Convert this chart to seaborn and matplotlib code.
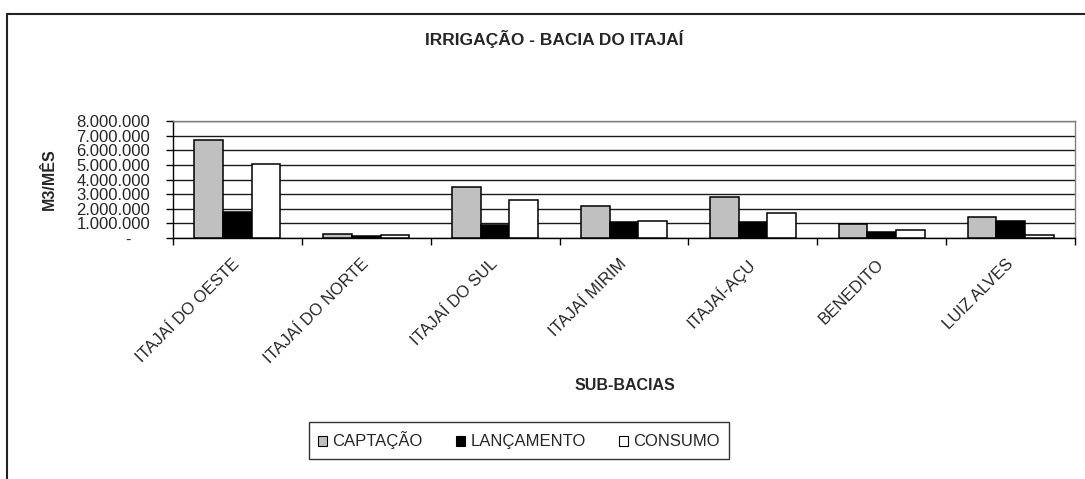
import matplotlib
matplotlib.use("Agg")
import matplotlib.pyplot as plt
from matplotlib.lines import Line2D
from matplotlib.ticker import FuncFormatter, MultipleLocator
import numpy as np
import pandas as pd
import seaborn as sns

categories = ["ITAJAÍ DO OESTE", "ITAJAÍ DO NORTE", "ITAJAÍ DO SUL", "ITAJAÍ MIRIM",
              "ITAJAÍ-AÇU", "BENEDITO", "LUIZ ALVES"]
series_names = ["CAPTAÇÃO", "LANÇAMENTO", "CONSUMO"]
captacao = [6690000, 300000, 3470000, 2190000, 2810000, 960000, 1440000]
lancamento = [1760000, 120000, 920000, 1070000, 1070000, 410000, 1190000]
consumo = [5030000, 180000, 2630000, 1160000, 1710000, 580000, 180000]
colors = ["#C0C0C0", "#000000", "#FFFFFF"]

rows = []
for name, vals in zip(series_names, [captacao, lancamento, consumo]):
    for c, v in zip(categories, vals):
        rows.append({"SUB-BACIAS": c, "valor": v, "serie": name})
df = pd.DataFrame(rows)

sns.set_style("white")
plt.rcParams["font.family"] = ["Liberation Sans", "DejaVu Sans"]

W, H = 1085, 479
fig = plt.figure(figsize=(W / 100, H / 100), dpi=100)
ax = fig.add_axes([173 / W, 1 - 238 / H, (1075 - 173) / W, (238 - 121) / H])

sns.barplot(data=df, x="SUB-BACIAS", y="valor", hue="serie", order=categories,
            hue_order=series_names, palette=colors, saturation=1, width=0.667,
            edgecolor="black", linewidth=1.1, ax=ax, legend=True, zorder=3)

ax.set_xlim(-0.5, len(categories) - 0.5)
ax.set_ylim(0, 8000000)
ax.yaxis.set_major_locator(MultipleLocator(1000000))

def fmt(v, pos):
    if abs(v) < 1:
        return "-    "
    return f"{int(round(v)):,}".replace(",", ".")
ax.yaxis.set_major_formatter(FuncFormatter(fmt))

ax.yaxis.grid(True, color="#1a1a1a", linewidth=1.0, zorder=0)
ax.xaxis.grid(False)
ax.set_axisbelow(True)

ax.set_xticks(np.arange(-0.5, len(categories), 1), minor=True)
ax.tick_params(axis="x", which="major", length=0, pad=17, labelsize=12)
ax.tick_params(axis="x", which="minor", length=5, width=1, color="black", direction="out", bottom=True)
ax.tick_params(axis="y", which="major", length=5, width=1, color="black", direction="out",
               left=True, pad=11.5, labelsize=12)
for lab in ax.get_xticklabels():
    lab.set_rotation(45)
    lab.set_ha("right")
    lab.set_va("center")
    lab.set_rotation_mode("anchor")

for s in ["top", "right"]:
    ax.spines[s].set_color("#808080")
    ax.spines[s].set_linewidth(1)
for s in ["left", "bottom"]:
    ax.spines[s].set_color("black")
    ax.spines[s].set_linewidth(1)

ax.set_xlabel("SUB-BACIAS", fontsize=11.5, fontweight="bold")
ax.xaxis.set_label_coords((625 - 173) / (1075 - 173), 1 - (386 - 121) / (238 - 121))
ax.xaxis.label.set_va("center")
ax.set_ylabel("M3/MÊS", fontsize=11.5, fontweight="bold")
ax.yaxis.set_label_coords((57 - 173) / (1075 - 173), 0.5)

handles, labels = ax.get_legend_handles_labels()
ax.get_legend().remove()
leg = fig.legend(handles, labels, loc="center", bbox_to_anchor=(519 / W, 1 - 440.5 / H),
                 ncol=3, fontsize=12, frameon=True, fancybox=False, shadow=False,
                 handlelength=0.55, handleheight=0.55, handletextpad=0.3,
                 columnspacing=2.0, borderpad=0.55, borderaxespad=0)
leg.get_frame().set_edgecolor("#333333")
leg.get_frame().set_linewidth(1.0)
leg.get_frame().set_alpha(1)
for h in leg.legend_handles:
    h.set_edgecolor("black")
    h.set_linewidth(0.8)

fig.text(554 / W, 1 - 39 / H, "IRRIGAÇÃO - BACIA DO ITAJAÍ", ha="center", va="center",
         fontsize=12.5, fontweight="bold")

fig.add_artist(Line2D([6.5 / W, 6.5 / W], [0, 1 - 14 / H], color="#222222", linewidth=1.5,
                      transform=fig.transFigure))
fig.add_artist(Line2D([6.5 / W, 1], [1 - 14 / H, 1 - 14 / H], color="#222222", linewidth=1.5,
                      transform=fig.transFigure))

fig.savefig("out.png", dpi=100, facecolor="white")
